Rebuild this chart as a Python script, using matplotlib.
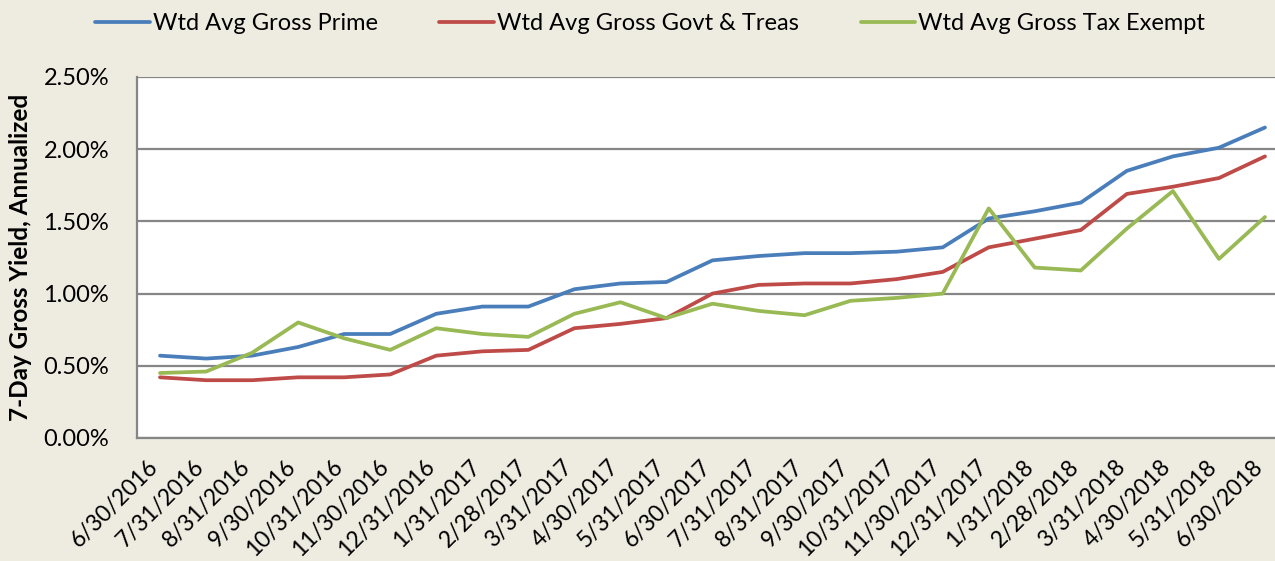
import matplotlib
matplotlib.use("Agg")
from matplotlib import pyplot as plt
from matplotlib.ticker import FuncFormatter
from matplotlib.transforms import ScaledTranslation

fechas = ["6/30/2016", "7/31/2016", "8/31/2016", "9/30/2016", "10/31/2016",
          "11/30/2016", "12/31/2016", "1/31/2017", "2/28/2017", "3/31/2017",
          "4/30/2017", "5/31/2017", "6/30/2017", "7/31/2017", "8/31/2017",
          "9/30/2017", "10/31/2017", "11/30/2017", "12/31/2017", "1/31/2018",
          "2/28/2018", "3/31/2018", "4/30/2018", "5/31/2018", "6/30/2018"]

prime = [0.57, 0.55, 0.57, 0.63, 0.72, 0.72, 0.86, 0.91, 0.91, 1.03, 1.07, 1.08, 1.23,
         1.26, 1.28, 1.28, 1.29, 1.32, 1.52, 1.57, 1.63, 1.85, 1.95, 2.01, 2.15]
govt = [0.42, 0.40, 0.40, 0.42, 0.42, 0.44, 0.57, 0.60, 0.61, 0.76, 0.79, 0.83, 1.00,
        1.06, 1.07, 1.07, 1.10, 1.15, 1.32, 1.38, 1.44, 1.69, 1.74, 1.80, 1.95]
tax_exempt = [0.45, 0.46, 0.59, 0.80, 0.69, 0.61, 0.76, 0.72, 0.70, 0.86, 0.94, 0.83, 0.93,
              0.88, 0.85, 0.95, 0.97, 1.00, 1.59, 1.18, 1.16, 1.45, 1.71, 1.24, 1.53]

series = {
    "Wtd Avg Gross Prime": (prime, "#4A7EBB"),
    "Wtd Avg Gross Govt & Treas": (govt, "#BE4B48"),
    "Wtd Avg Gross Tax Exempt": (tax_exempt, "#98B954"),
}

plt.rcParams["font.family"] = ["Lato", "DejaVu Sans"]

fondo = "#EEEBE0"
fig = plt.figure(figsize=(12.75, 5.61), dpi=100, facecolor=fondo)
ax = fig.add_axes([137 / 1275, 0.2193, 1151 / 1275, 0.6435])
ax.set_facecolor("white")

x = list(range(len(fechas)))
for nombre, (valores, color) in series.items():
    ax.plot(x, valores, color=color, lw=2.7, label=nombre, solid_capstyle="round")

ax.set_xlim(-0.5, len(fechas) - 0.5)
ax.set_ylim(0, 2.5)
ax.set_yticks([0, 0.5, 1.0, 1.5, 2.0, 2.5])
ax.yaxis.set_major_formatter(FuncFormatter(lambda v, p: f"{v:.2f}%"))
ax.grid(axis="y", color="#868686", lw=1.6)
ax.set_axisbelow(True)

ax.set_xticks(x)
ax.set_xticklabels(fechas, rotation=45, ha="right", rotation_mode="anchor")
ax.tick_params(axis="x", length=0, pad=13, labelsize=16.5)
ax.tick_params(axis="y", length=0, pad=20, labelsize=17)
# las etiquetas del eje x van un poco a la izquierda, como en el original
desplazar = ScaledTranslation(-9 / 72, 0, fig.dpi_scale_trans)
for etiqueta in ax.get_xticklabels():
    etiqueta.set_transform(etiqueta.get_transform() + desplazar)

for lado in ["top", "right"]:
    ax.spines[lado].set_visible(False)
for lado in ["left", "bottom"]:
    ax.spines[lado].set_color("#868686")
    ax.spines[lado].set_linewidth(1.6)

ax.set_ylabel("7-Day Gross Yield, Annualized", fontsize=17.5, fontweight="bold", labelpad=8)

fig.legend(loc="upper center", bbox_to_anchor=(0.51, 1.015), ncol=3, frameon=False,
           fontsize=17, handlelength=2.3, handletextpad=0.15, columnspacing=2.6)

fig.savefig("out.png", dpi=100, facecolor=fondo)
